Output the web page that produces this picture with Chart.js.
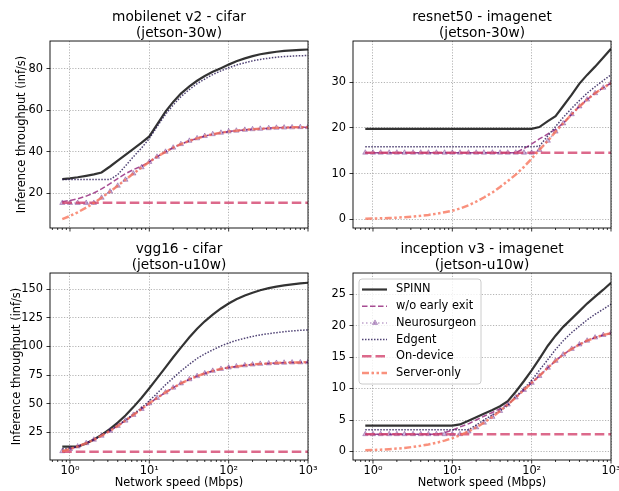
<!DOCTYPE html>
<html lang="en">
<head>
<meta charset="utf-8">
<title>SPINN - inference throughput</title>
<script src="https://cdn.jsdelivr.net/npm/chart.js@4.4.1/dist/chart.umd.min.js"></script>
<style>
  body { margin: 0; background: #fff; }
  #figure { position: relative; width: 619px; height: 491px; }
  #figure canvas { position: absolute; left: 0; top: 0; }
</style>
</head>
<body>
<div id="figure">
  <canvas id="g-mobilenet" width="619" height="491"></canvas>
  <canvas id="g-resnet" width="619" height="491"></canvas>
  <canvas id="g-vgg" width="619" height="491"></canvas>
  <canvas id="g-inception" width="619" height="491"></canvas>
</div>
<script>
/*
 * Debit d'inference en fonction de la vitesse reseau,
 * quatre sous-graphes (2 x 2) dessines avec Chart.js.
 */

// ---------- Donnees ----------

// Vitesses reseau (Mbps) communes aux courbes
const vitesses = [0.8, 1, 1.25, 1.6, 2, 2.5, 3.2, 4, 5, 6.3, 8, 10, 12.5, 16, 20, 25, 32, 40, 50, 63, 80, 100, 125, 160, 200, 250, 320, 400, 500, 630, 800, 1000];
// Lignes horizontales (On-device) : seulement les deux extremites
const extremites = [0.8, 1000];

const noms = ["SPINN", "w/o early exit", "Neurosurgeon", "Edgent", "On-device", "Server-only"];

const decades = [1, 10, 100, 1000];
const etiquettesDecades = ["10\u2070", "10\u00b9", "10\u00b2", "10\u00b3"];

// mobilenet v2 - cifar (jetson-30w)
const mobSpinn = [26.7, 27.1, 27.6, 28.3, 29.0, 29.9, 32.8, 35.6, 38.4, 41.3, 44.3, 47.3, 53.0, 59.3, 64.0, 68.0, 71.5, 74.2, 76.5, 78.5, 80.3, 82.0, 83.6, 85.0, 86.1, 87.0, 87.7, 88.2, 88.6, 88.9, 89.1, 89.3];
const mobSansSortie = [15.8, 16.4, 17.2, 18.5, 20.0, 22.0, 24.5, 27.0, 29.3, 31.3, 33.0, 35.0, 37.5, 39.9, 41.9, 43.6, 45.2, 46.4, 47.5, 48.4, 49.1, 49.7, 50.1, 50.5, 50.8, 51.0, 51.3, 51.5, 51.6, 51.7, 51.8, 51.8];
const mobNeuro = [15.2, 15.2, 15.2, 15.2, 15.2, 17.7, 20.7, 23.5, 26.4, 29.4, 32.4, 35.0, 37.5, 39.9, 41.9, 43.6, 45.2, 46.4, 47.5, 48.4, 49.1, 49.7, 50.1, 50.5, 50.8, 51.0, 51.3, 51.5, 51.6, 51.7, 51.8, 51.8];
const mobEdgent = [26.5, 26.5, 26.5, 26.5, 26.5, 26.5, 26.5, 28.9, 33.1, 37.5, 41.8, 46.3, 52.0, 58.0, 62.5, 66.5, 70.0, 72.8, 75.0, 77.2, 79.0, 80.5, 81.8, 82.9, 83.8, 84.5, 85.1, 85.6, 85.9, 86.1, 86.3, 86.4];
const mobLocal = [15.3, 15.3];
const mobServeur = [7.4, 8.9, 10.7, 12.9, 15.2, 17.7, 20.7, 23.5, 26.4, 29.4, 32.4, 35.0, 37.5, 39.9, 41.9, 43.6, 45.2, 46.4, 47.5, 48.4, 49.1, 49.7, 50.1, 50.5, 50.8, 51.0, 51.3, 51.5, 51.6, 51.7, 51.8, 51.8];
const mobGradY = [20, 40, 60, 80];

// resnet50 - imagenet (jetson-30w)
const resSpinn = [19.8, 19.8, 19.8, 19.8, 19.8, 19.8, 19.8, 19.8, 19.8, 19.8, 19.8, 19.8, 19.8, 19.8, 19.8, 19.8, 19.8, 19.8, 19.8, 19.8, 19.8, 19.8, 20.2, 21.5, 22.6, 24.8, 27.3, 29.7, 31.6, 33.4, 35.4, 37.3];
const resSansSortie = [14.6, 14.6, 14.6, 14.6, 14.6, 14.6, 14.6, 14.6, 14.6, 14.6, 14.6, 14.6, 14.6, 14.6, 14.6, 14.6, 14.6, 14.6, 14.6, 14.6, 15.5, 16.5, 17.6, 18.7, 19.7, 21.0, 23.0, 24.7, 26.2, 27.6, 28.8, 29.8];
const resNeuro = [14.6, 14.6, 14.6, 14.6, 14.6, 14.6, 14.6, 14.6, 14.6, 14.6, 14.6, 14.6, 14.6, 14.6, 14.6, 14.6, 14.6, 14.6, 14.6, 14.6, 14.6, 14.6, 15.2, 17.2, 19.2, 21.0, 23.0, 24.7, 26.2, 27.6, 28.8, 29.8];
const resEdgent = [15.9, 15.9, 15.9, 15.9, 15.9, 15.9, 15.9, 15.9, 15.9, 15.9, 15.9, 15.9, 15.9, 15.9, 15.9, 15.9, 15.9, 15.9, 15.9, 15.9, 15.9, 15.9, 16.0, 18.3, 20.3, 22.3, 24.3, 26.0, 27.6, 29.0, 30.4, 31.6];
const resLocal = [14.6, 14.6];
const resServeur = [0.16, 0.2, 0.25, 0.32, 0.4, 0.5, 0.64, 0.8, 1.0, 1.25, 1.57, 1.9, 2.4, 3.1, 3.9, 4.8, 5.9, 7.1, 8.4, 9.8, 11.5, 13.3, 15.2, 17.2, 19.2, 21.0, 23.0, 24.7, 26.2, 27.6, 28.8, 29.8];
const resGradY = [0, 10, 20, 30];

// vgg16 - cifar (jetson-u10w)
const vggSpinn = [12.5, 12.5, 12.5, 15.3, 18.7, 22.7, 28.0, 33.5, 39.7, 47.0, 55.2, 63.5, 72.1, 81.8, 90.6, 99.0, 108.0, 115.5, 122.0, 127.8, 133.2, 137.5, 141.2, 144.5, 147.0, 149.1, 151.0, 152.3, 153.4, 154.3, 155.1, 155.7];
const vggSansSortie = [8.5, 10.4, 12.6, 15.5, 18.5, 22.0, 26.3, 30.6, 35.2, 40.2, 45.4, 50.3, 55.0, 59.9, 64.0, 67.7, 71.3, 74.1, 76.5, 78.7, 80.4, 81.6, 82.6, 83.5, 84.2, 84.8, 85.2, 85.6, 85.8, 86.0, 86.1, 86.2];
const vggNeuro = [8.5, 10.4, 12.6, 15.5, 18.5, 22.0, 26.3, 30.6, 35.2, 40.2, 45.4, 50.3, 55.0, 59.9, 64.0, 67.7, 71.3, 74.1, 76.5, 78.7, 80.4, 81.6, 82.6, 83.5, 84.2, 84.8, 85.2, 85.6, 85.8, 86.0, 86.1, 86.2];
const vggEdgent = [10.5, 11.0, 12.7, 15.6, 18.6, 22.3, 26.8, 31.2, 35.8, 40.8, 46.5, 52.5, 59.0, 66.5, 72.5, 78.5, 84.5, 89.5, 93.5, 97.0, 100.5, 103.0, 105.3, 107.2, 108.8, 110.1, 111.2, 112.1, 112.9, 113.6, 114.1, 114.5];
const vggLocal = [8.1, 8.1];
const vggServeur = [8.5, 10.4, 12.6, 15.5, 18.5, 22.0, 26.3, 30.6, 35.2, 40.2, 45.4, 50.3, 55.0, 59.9, 64.0, 67.7, 71.3, 74.1, 76.5, 78.7, 80.4, 81.6, 82.6, 83.5, 84.2, 84.8, 85.2, 85.6, 85.8, 86.0, 86.1, 86.2];
const vggGradY = [25, 50, 75, 100, 125, 150];

// inception v3 - imagenet (jetson-u10w)
const incSpinn = [4.1, 4.1, 4.1, 4.1, 4.1, 4.1, 4.1, 4.1, 4.1, 4.1, 4.1, 4.1, 4.3, 4.9, 5.45, 6.0, 6.6, 7.2, 8.0, 9.5, 11.2, 12.9, 14.7, 16.8, 18.4, 19.8, 21.1, 22.3, 23.5, 24.6, 25.7, 26.8];
const incSansSortie = [2.75, 2.75, 2.75, 2.75, 2.75, 2.75, 2.75, 2.75, 2.75, 2.75, 3.0, 3.4, 3.9, 4.4, 5.0, 5.6, 6.2, 6.8, 7.5, 8.58, 9.78, 10.9, 12.0, 13.3, 14.4, 15.4, 16.3, 17.0, 17.6, 18.1, 18.5, 18.8];
const incNeuro = [2.75, 2.75, 2.75, 2.75, 2.75, 2.75, 2.75, 2.75, 2.75, 2.75, 2.75, 2.75, 2.75, 3.18, 3.83, 4.57, 5.50, 6.44, 7.46, 8.58, 9.78, 10.9, 12.0, 13.3, 14.4, 15.4, 16.3, 17.0, 17.6, 18.1, 18.5, 18.8];
const incEdgent = [3.46, 3.46, 3.46, 3.46, 3.46, 3.46, 3.46, 3.46, 3.46, 3.46, 3.46, 3.46, 3.46, 3.46, 4.2, 5.0, 5.8, 6.5, 7.3, 8.7, 10.0, 11.3, 12.9, 14.6, 16.2, 17.6, 18.9, 19.9, 20.9, 21.8, 22.6, 23.4];
const incLocal = [2.75, 2.75];
const incServeur = [0.19, 0.23, 0.29, 0.37, 0.46, 0.57, 0.73, 0.90, 1.11, 1.38, 1.73, 2.11, 2.58, 3.18, 3.83, 4.57, 5.50, 6.44, 7.46, 8.58, 9.78, 10.9, 12.0, 13.3, 14.4, 15.4, 16.3, 17.0, 17.6, 18.1, 18.5, 18.8];
const incGradY = [0, 5, 10, 15, 20, 25];

// ---------- Styles ----------

Chart.defaults.font.family = "'DejaVu Sans', sans-serif";
Chart.defaults.font.size = 11.4;
Chart.defaults.color = "#000";

// un style par serie, dans l'ordre de "noms" (order : le plus petit est dessine au-dessus)
const styles = [
  { borderColor: "rgba(0,0,0,0.8)", borderWidth: 2.2, borderDash: [], order: 5 },
  { borderColor: "rgba(152,45,128,0.85)", borderWidth: 1.5, borderDash: [5.5, 2.5], order: 4 },
  { borderColor: "rgba(95,24,127,0.4)", borderWidth: 1.5, borderDash: [1.5, 2.5], order: 3,
    pointStyle: "triangle", pointRadius: 3, pointBackgroundColor: "rgba(95,24,127,0.3)",
    pointBorderColor: "rgba(95,24,127,0.35)", pointBorderWidth: 1 },
  { borderColor: "rgba(34,17,80,0.8)", borderWidth: 1.5, borderDash: [1.5, 1.5], order: 2 },
  { borderColor: "rgba(211,67,110,0.8)", borderWidth: 2.5, borderDash: [9.5, 4], order: 1 },
  { borderColor: "rgba(248,118,92,0.8)", borderWidth: 2.5, borderDash: [7, 2.5, 2.5, 2.5, 2.5, 2.5], order: 0 },
];

// graduations de l'axe x : 2..9 dans chaque decade + puissances de 10
const graduationsX = [];
[0.1, 1, 10, 100].forEach(base => {
  for (let k = 1; k <= 9; k++) {
    const v = +(k * base).toPrecision(3);
    if (v >= 0.56) graduationsX.push(v);
  }
});
graduationsX.push(1000);

// ---------- Plugins ----------

// Cadre complet autour de la zone + petites graduations de l'axe x
const cadre = {
  id: "cadre",
  afterDatasetsDraw(chart) {
    const { ctx, chartArea: a } = chart;
    const x = chart.scales.x;
    ctx.save();
    ctx.strokeStyle = "#000";
    ctx.lineWidth = 0.9;
    ctx.strokeRect(a.left, a.top, a.right - a.left, a.bottom - a.top);
    ctx.beginPath();
    x.ticks.forEach(t => {
      const px = x.getPixelForValue(t.value);
      const longueur = decades.includes(t.value) ? 3.5 : 2;
      ctx.moveTo(px, a.bottom);
      ctx.lineTo(px, a.bottom + longueur);
    });
    ctx.lineWidth = 0.8;
    ctx.stroke();
    ctx.restore();
  }
};

// Legende dessinee dans la zone du graphe (coin haut gauche)
const legende = {
  id: "legende",
  afterDraw(chart) {
    const { ctx, chartArea: a } = chart;
    const x0 = a.left + 6, y0 = a.top + 6;
    ctx.save();
    ctx.beginPath();
    ctx.roundRect(x0, y0, 122, 105, 3);
    ctx.fillStyle = "rgba(255,255,255,0.8)";
    ctx.fill();
    ctx.strokeStyle = "#cccccc";
    ctx.lineWidth = 1;
    ctx.stroke();
    noms.forEach((nom, i) => {
      const s = styles[i];
      const y = y0 + 10.5 + i * 16.7;
      ctx.beginPath();
      ctx.setLineDash(s.borderDash);
      ctx.strokeStyle = s.borderColor;
      ctx.lineWidth = s.borderWidth;
      ctx.moveTo(x0 + 3, y);
      ctx.lineTo(x0 + 28, y);
      ctx.stroke();
      ctx.setLineDash([]);
      if (s.pointStyle) {
        const cx = x0 + 16, r = 3;
        ctx.beginPath();
        ctx.moveTo(cx, y - r);
        ctx.lineTo(cx + r * 0.87, y + r / 2);
        ctx.lineTo(cx - r * 0.87, y + r / 2);
        ctx.closePath();
        ctx.fillStyle = s.pointBackgroundColor;
        ctx.fill();
        ctx.strokeStyle = s.pointBorderColor;
        ctx.lineWidth = 1;
        ctx.stroke();
      }
      ctx.fillStyle = "#000";
      ctx.font = "11.4px 'DejaVu Sans'";
      ctx.textBaseline = "middle";
      ctx.fillText(nom, x0 + 37, y);
    });
    ctx.restore();
  }
};

// ---------- Construction d'un sous-graphe ----------

function creerGraphe(idCanvas, p) {
  const series = [p.spinn, p.sansSortie, p.neuro, p.edgent, p.local, p.serveur];
  const datasets = series.map((valeurs, i) => {
    const xs = valeurs.length === 2 ? extremites : vitesses;
    return Object.assign({
      label: noms[i],
      data: valeurs.map((v, k) => ({ x: xs[k], y: v })),
      pointRadius: 0,
      pointHoverRadius: 0,
      fill: false,
      tension: 0,
    }, styles[i]);
  });

  const z = p.zone;
  const hauteurX = p.etiquettesX ? 31 : 5;

  new Chart(document.getElementById(idCanvas), {
    type: "line",
    data: { datasets },
    options: {
      responsive: false,
      animation: false,
      events: [],
      layout: {
        autoPadding: false,
        padding: { left: p.gauche, right: 619 - z.r, top: z.t - 41, bottom: 491 - z.b - hauteurX },
      },
      plugins: {
        legend: { display: false },
        tooltip: { enabled: false },
        title: {
          display: true,
          text: p.titre,
          fullSize: false,
          color: "#000",
          font: { size: 13.7, weight: "normal", lineHeight: 1.15 },
          padding: { top: 9.4, bottom: 0.1 },
        },
      },
      scales: {
        x: {
          type: "logarithmic",
          min: 0.56,
          max: 1000,
          afterBuildTicks: s => { s.ticks = graduationsX.map(v => ({ value: v })); },
          afterFit: s => { s.height = hauteurX; s.paddingLeft = 0; s.paddingRight = 0; },
          grid: {
            color: c => decades.includes(c.tick && c.tick.value) ? "rgba(150,150,150,0.9)" : "transparent",
            lineWidth: 0.8,
            drawTicks: false,
          },
          border: { display: false, dash: [1.2, 1.6] },
          ticks: {
            display: p.etiquettesX,
            autoSkip: false,
            maxRotation: 0,
            padding: 4.2,
            color: "#000",
            callback: v => {
              const i = decades.indexOf(v);
              return i >= 0 ? etiquettesDecades[i] : "";
            },
          },
          title: {
            display: p.etiquettesX,
            text: "Network speed (Mbps)",
            color: "#000",
            padding: { top: 0, bottom: 1.15 },
          },
        },
        y: {
          min: p.yMin,
          max: p.yMax,
          afterBuildTicks: s => { s.ticks = p.gradY.map(v => ({ value: v })); },
          afterFit: s => { s.width = z.l - p.gauche; s.paddingTop = 0; s.paddingBottom = 0; },
          grid: { color: "rgba(150,150,150,0.9)", lineWidth: 0.8, tickLength: 3.5, tickColor: "#000", tickWidth: 0.8 },
          border: { display: false, dash: [1.2, 1.6] },
          ticks: { padding: 3.5, color: "#000" },
          title: {
            display: p.titreY,
            text: "Inference throughput (inf/s)",
            color: "#000",
            padding: { top: p.decalTitreY || 0, bottom: 0 },
          },
        },
      },
    },
    plugins: p.legende ? [cadre, legende] : [cadre],
  });
}

// ---------- Les quatre graphes ----------

creerGraphe("g-mobilenet", {
  titre: ["mobilenet v2 - cifar", "(jetson-30w)"],
  spinn: mobSpinn, sansSortie: mobSansSortie, neuro: mobNeuro, edgent: mobEdgent, local: mobLocal, serveur: mobServeur,
  yMin: 3.1, yMax: 93.4, gradY: mobGradY,
  zone: { l: 50, r: 308, t: 41, b: 228 }, gauche: 10,
  titreY: true, decalTitreY: 5.15, etiquettesX: false, legende: false,
});

creerGraphe("g-resnet", {
  titre: ["resnet50 - imagenet", "(jetson-30w)"],
  spinn: resSpinn, sansSortie: resSansSortie, neuro: resNeuro, edgent: resEdgent, local: resLocal, serveur: resServeur,
  yMin: -1.86, yMax: 39, gradY: resGradY,
  zone: { l: 353, r: 611, t: 41, b: 228 }, gauche: 323,
  titreY: false, etiquettesX: false, legende: false,
});

creerGraphe("g-vgg", {
  titre: ["vgg16 - cifar", "(jetson-u10w)"],
  spinn: vggSpinn, sansSortie: vggSansSortie, neuro: vggNeuro, edgent: vggEdgent, local: vggLocal, serveur: vggServeur,
  yMin: 0.8, yMax: 164.2, gradY: vggGradY,
  zone: { l: 50, r: 308, t: 273, b: 460 }, gauche: 10,
  titreY: true, decalTitreY: 0, etiquettesX: true, legende: false,
});

creerGraphe("g-inception", {
  titre: ["inception v3 - imagenet", "(jetson-u10w)"],
  spinn: incSpinn, sansSortie: incSansSortie, neuro: incNeuro, edgent: incEdgent, local: incLocal, serveur: incServeur,
  yMin: -1.35, yMax: 28.35, gradY: incGradY,
  zone: { l: 353, r: 611, t: 273, b: 460 }, gauche: 323,
  titreY: false, etiquettesX: true, legende: true,
});
</script>
</body>
</html>
